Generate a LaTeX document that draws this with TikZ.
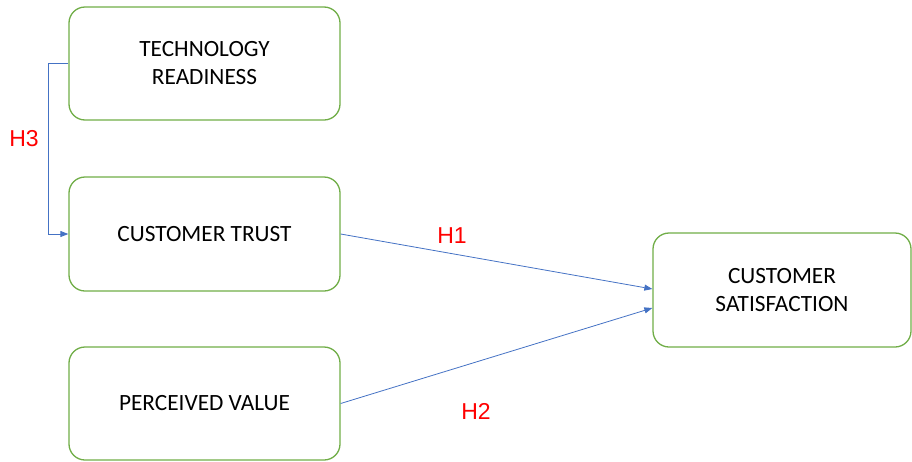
\documentclass[tikz,border=0pt]{standalone}
\usepackage{fontspec}
\setmainfont{Carlito}
\newfontfamily\labfont{Liberation Sans}
\usetikzlibrary{arrows.meta}
\definecolor{boxgreen}{HTML}{70AD47}
\definecolor{linkblue}{HTML}{4472C4}
\begin{document}
\begin{tikzpicture}[x=1pt,y=-1pt,
  box/.style={draw=boxgreen,line width=1.3pt,rounded corners=16pt,align=center,
    font=\fontsize{23.3}{28}\selectfont,text=black,inner sep=0pt},
  link/.style={draw=linkblue,line width=0.8pt,-{Triangle[length=8pt,width=6pt]}},
  hlab/.style={text=red,font=\labfont\fontsize{23}{26}\selectfont,inner sep=0pt}]
\useasboundingbox (0,0) rectangle (912,461);
\node[box,minimum width=271pt,minimum height=113pt] (tr) at (204.5,63.5) {TECHNOLOGY\\READINESS};
\node[box,minimum width=271pt,minimum height=114pt] (ct) at (204.5,234) {CUSTOMER TRUST};
\node[box,minimum width=271pt,minimum height=113pt] (pv) at (204.5,403.5) {PERCEIVED VALUE};
\node[box,minimum width=258pt,minimum height=114pt] (cs) at (782,290) {CUSTOMER\\SATISFACTION};
\coordinate (bend1) at (48,63.5);
\coordinate (bend2) at (48,234);
\draw[link] (tr.west) -- (bend1) -- (bend2) -- (ct.west);
\draw[link] (ct.east) -- ([yshift=1pt]cs.west);
\draw[link] (pv.east) -- ([yshift=-18pt]cs.west);
\node[hlab] (h3) at (24,139) {H3};
\node[hlab] (h1) at (452,236) {H1};
\node[hlab] (h2) at (476,411) {H2};
\end{tikzpicture}
\end{document}
